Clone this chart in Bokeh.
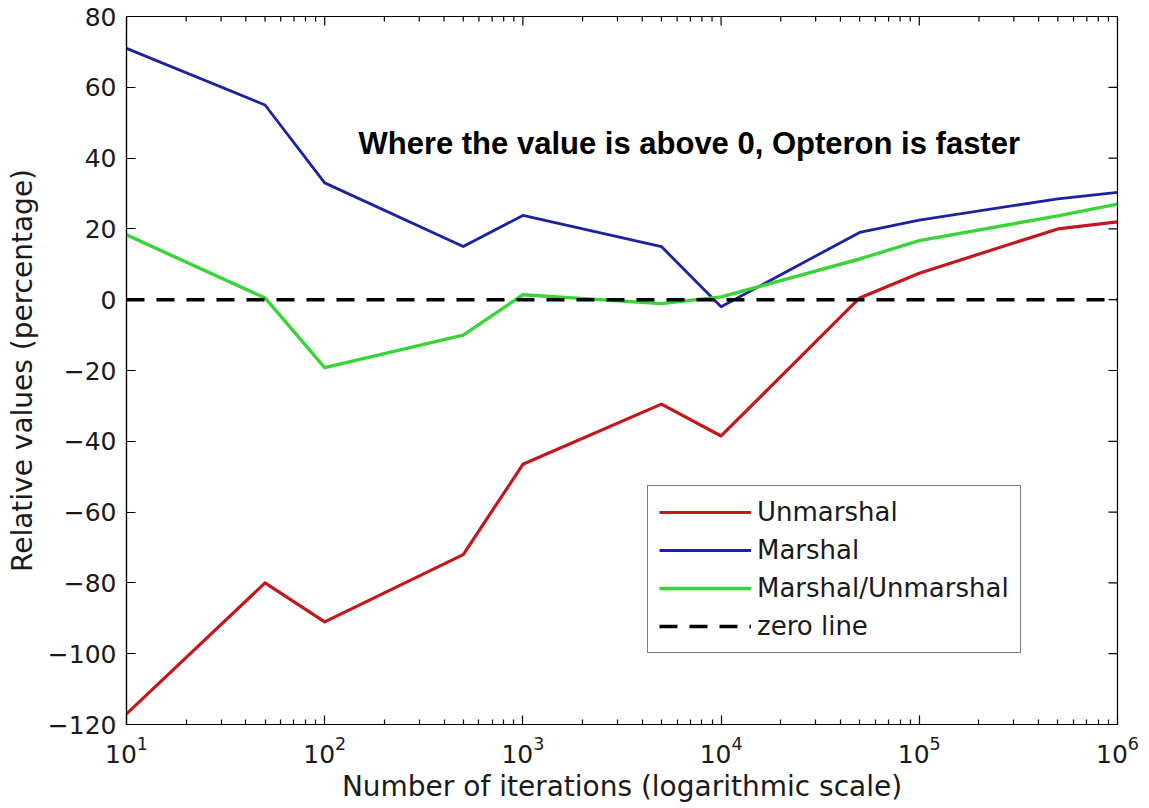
import math
from bokeh.plotting import figure
from bokeh.models import FixedTicker, LogTicker, LogTickFormatter, Legend, LegendItem, Label
from bokeh.embed import file_html
from bokeh.resources import INLINE

# Iteration counts (log scale) and relative timing differences in percent
iterations = [10, 50, 100, 500, 1000, 5000, 10000, 50000, 100000, 500000, 1000000]
unmarshal = [-117, -80, -91, -72, -46.5, -29.5, -38.5, 0.5, 7.5, 20, 22]
marshal = [71, 55, 33, 15, 23.8, 15, -2, 19, 22.5, 28.5, 30.3]
marshal_unmarshal = [18.3, 0.5, -19.2, -10, 1.4, -1.1, 0.8, 11.5, 16.7, 23.7, 27]

series_names = ["Unmarshal", "Marshal", "Marshal/Unmarshal"]
series_colors = ["#c4161c", "#1a22a0", "#38d438"]
series_widths = [3.2, 2.8, 3.4]

x_major = [10, 100, 1000, 10000, 100000, 1000000]
x_minor = [m * d for d in [10, 100, 1000, 10000, 100000] for m in range(2, 10)]
y_major = list(range(-120, 81, 20))

X_MIN, X_MAX = 10, 1e6
Y_MIN, Y_MAX = -120, 80

W, H = 1149, 808
BORDER_L, BORDER_R, BORDER_T, BORDER_B = 126, 32, 16, 84
FRAME_W = W - BORDER_L - BORDER_R
FRAME_H = H - BORDER_T - BORDER_B

FONT = "DejaVu Sans"
BOLD_FONT = "Liberation Sans"
TEXT_COLOR = "#1a1a1a"

p = figure(width=W, height=H, x_axis_type="log",
           x_range=(X_MIN, X_MAX), y_range=(Y_MIN, Y_MAX),
           output_backend="svg", toolbar_location=None,
           min_border_left=BORDER_L, min_border_right=BORDER_R,
           min_border_top=BORDER_T, min_border_bottom=BORDER_B,
           background_fill_color="white", border_fill_color="white")
p.grid.visible = False
p.outline_line_color = "black"
p.outline_line_width = 1.2


def style_axis(ax):
    ax.axis_line_color = "black"
    ax.axis_line_width = 1.2
    ax.major_tick_line_color = "black"
    ax.minor_tick_line_color = "black"
    ax.major_tick_line_width = 1.2
    ax.minor_tick_line_width = 1.2
    ax.major_tick_in = 9
    ax.major_tick_out = 0
    ax.minor_tick_in = 5
    ax.minor_tick_out = 0
    ax.major_label_text_font = FONT
    ax.major_label_text_color = TEXT_COLOR
    ax.major_label_text_font_size = "25px"
    ax.major_label_standoff = 10
    ax.axis_label_text_font = FONT
    ax.axis_label_text_font_style = "normal"
    ax.axis_label_text_font_size = "28px"
    ax.axis_label_text_color = TEXT_COLOR


xb = p.xaxis[0]
xb.ticker = FixedTicker(ticks=x_major, minor_ticks=x_minor)
xb.formatter = LogTickFormatter(ticker=LogTicker())
xb.axis_label = "Number of iterations (logarithmic scale)"
xb.axis_label_standoff = 4
style_axis(xb)
xb.major_label_standoff = 11

yl = p.yaxis[0]
yl.ticker = FixedTicker(ticks=y_major)
yl.axis_label = "Relative values (percentage)"
yl.axis_label_standoff = 6
style_axis(yl)
yl.minor_tick_in = 0

# Mirrored tick marks along the top and right edges of the box,
# with lengths converted from pixels to data units
def y_down(px):
    return Y_MAX - px * (Y_MAX - Y_MIN) / FRAME_H


decades = math.log10(X_MAX) - math.log10(X_MIN)
x_left_of_max = X_MAX / 10 ** (9 * decades / FRAME_W)

tick_style = dict(line_color="black", line_width=1.2)
p.segment(x0=x_major, y0=[Y_MAX] * len(x_major), x1=x_major,
          y1=[y_down(9)] * len(x_major), **tick_style)
p.segment(x0=x_minor, y0=[Y_MAX] * len(x_minor), x1=x_minor,
          y1=[y_down(5)] * len(x_minor), **tick_style)
p.segment(x0=[X_MAX] * len(y_major), y0=y_major,
          x1=[x_left_of_max] * len(y_major), y1=y_major, **tick_style)

renderers = []
for ys, name, col, w in zip([unmarshal, marshal, marshal_unmarshal],
                            series_names, series_colors, series_widths):
    r = p.line(iterations, ys, line_color=col, line_width=w, line_join="round")
    renderers.append(r)

zero = p.line([X_MIN, X_MAX], [0, 0], line_color="black",
              line_width=3.5, line_dash="18 12")
renderers.append(zero)

legend = Legend(items=[LegendItem(label=n, renderers=[r])
                       for n, r in zip(series_names + ["zero line"], renderers)],
                location=(521, 71))
legend.border_line_color = "black"
legend.border_line_width = 1.2
legend.background_fill_color = "white"
legend.background_fill_alpha = 1
legend.label_text_font = FONT
legend.label_text_font_size = "26px"
legend.label_text_color = TEXT_COLOR
legend.glyph_width = 92
legend.glyph_height = 30
legend.label_height = 30
legend.label_standoff = 6
legend.spacing = 8
legend.padding = 11
legend.margin = 0
p.add_layout(legend, "center")

note = Label(x=148, y=44, text="Where the value is above 0, Opteron is faster",
             text_font=BOLD_FONT, text_font_style="bold", text_font_size="31px",
             text_color="black", text_baseline="middle")
p.add_layout(note)

open("out.html", "w").write(file_html(p, INLINE))
